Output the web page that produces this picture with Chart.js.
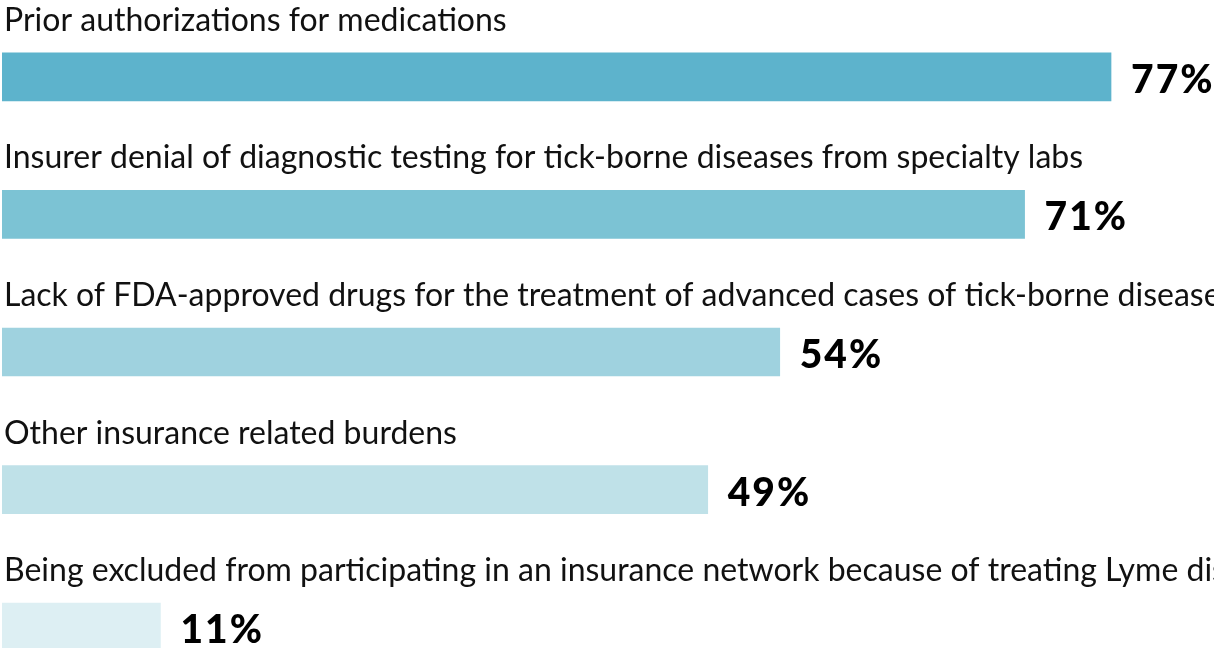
<!DOCTYPE html>
<html>
<head>
<meta charset="utf-8">
<script src="https://cdn.jsdelivr.net/npm/chart.js@4"></script>
<style>
  html, body { margin: 0; padding: 0; background: #fff; overflow: hidden; }
  #wrap { width: 1214px; height: 648px; overflow: hidden; }
</style>
</head>
<body>
<div id="wrap"><canvas id="barChart" width="1214" height="700"></canvas></div>
<script>
// Survey answers, one bar per burden
const categories = [
    'Prior authorizations for medications',
    'Insurer denial of diagnostic testing for tick-borne diseases from specialty labs',
    'Lack of FDA-approved drugs for the treatment of advanced cases of tick-borne diseases',
    'Other insurance related burdens',
    'Being excluded from participating in an insurance network because of treating Lyme disease'
];
const percentValues = [77, 71, 54, 49, 11];
const barColors = ['#5db3cc', '#7cc3d4', '#9fd2df', '#bfe1e8', '#ddeff3'];

// Draw category text above each bar and the value to the right
const labelPlugin = {
    id: 'barLabels',
    afterDatasetsDraw(chart) {
        const c = chart.ctx;
        const meta = chart.getDatasetMeta(0);
        c.save();
        meta.data.forEach((bar, i) => {
            const top = bar.y - bar.height / 2;
            c.fillStyle = '#111';
            c.textAlign = 'left';
            c.textBaseline = 'alphabetic';
            c.letterSpacing = '0px';
            c.font = '32px Lato, "Open Sans", sans-serif';
            c.fillText(categories[i], 4, top - 22);

            c.font = '900 39px Lato, "DejaVu Sans", sans-serif';
            c.letterSpacing = '2px';
            c.fillStyle = '#000';
            c.fillText(percentValues[i] + '%', bar.x + 20, bar.y + 16);
        });
        c.restore();
    }
};

const ctx = document.getElementById('barChart').getContext('2d');
const barChart = new Chart(ctx, {
    type: 'bar',
    data: {
        labels: categories,
        datasets: [{
            data: percentValues,
            backgroundColor: barColors,
            barThickness: 48,
            borderWidth: 0
        }]
    },
    options: {
        indexAxis: 'y',
        responsive: false,
        animation: false,
        layout: {
            padding: { left: 2, right: 0, top: 8, bottom: 4 }
        },
        plugins: {
            legend: { display: false },
            tooltip: { enabled: false }
        },
        scales: {
            x: { display: false, min: 0, max: 84.15 },
            y: { display: false }
        }
    },
    plugins: [labelPlugin]
});
</script>
</body>
</html>
